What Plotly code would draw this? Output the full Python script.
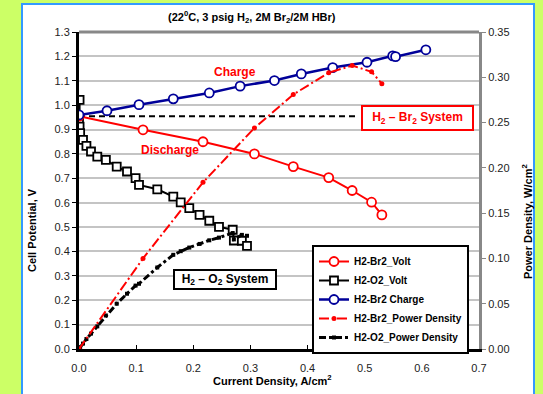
import plotly.graph_objects as go

# ---------------- data ----------------
BR_VOLT_I = [0.000, 0.112, 0.217, 0.307, 0.375, 0.437, 0.478, 0.512, 0.530]
BR_VOLT_V = [0.955, 0.899, 0.850, 0.800, 0.748, 0.703, 0.650, 0.602, 0.550]

O2_VOLT_I = [0.001, 0.000, 0.001, 0.002, 0.007, 0.013, 0.021, 0.032, 0.047, 0.066,
             0.084, 0.099, 0.105, 0.137, 0.165, 0.178, 0.193, 0.211, 0.228, 0.245,
             0.269, 0.271, 0.285, 0.294]
O2_VOLT_V = [1.022, 0.933, 0.912, 0.885, 0.858, 0.833, 0.810, 0.789, 0.776, 0.748,
             0.728, 0.701, 0.673, 0.655, 0.625, 0.601, 0.578, 0.550, 0.526, 0.501,
             0.489, 0.445, 0.444, 0.423]

CHG_I = [0.000, 0.049, 0.105, 0.165, 0.228, 0.282, 0.342, 0.389, 0.444, 0.504, 0.549, 0.554, 0.607]
CHG_V = [0.960, 0.977, 1.002, 1.026, 1.050, 1.078, 1.101, 1.128, 1.154, 1.176, 1.202, 1.199, 1.227]

BR_POW_I = [0.000, 0.112, 0.217, 0.307, 0.375, 0.437, 0.478, 0.512, 0.530]
BR_POW_P = [0.000, 0.100, 0.184, 0.244, 0.281, 0.305, 0.313, 0.306, 0.293]

O2_POW_I = O2_VOLT_I
O2_POW_P = [0.000, 0.000, 0.001, 0.002, 0.006, 0.011, 0.017, 0.025, 0.037, 0.050,
            0.061, 0.070, 0.072, 0.090, 0.104, 0.108, 0.112, 0.116, 0.120, 0.123,
            0.128, 0.121, 0.126, 0.125]

OCV_I = [0.000, 0.490]
OCV_V = [0.955, 0.955]

X_TICKS = [0.0, 0.1, 0.2, 0.3, 0.4, 0.5, 0.6, 0.7]
Y_TICKS = [round(0.1 * k, 1) for k in range(14)]
Y2_TICKS = [0.00, 0.05, 0.10, 0.15, 0.20, 0.25, 0.30, 0.35]

# ---------------- figure ----------------
FONT = "Liberation Sans, Arial, sans-serif"
RED = "#FF0000"
NAVY = "#000099"

# plot-area pixel geometry
L, R, T, B = 79, 479, 32, 349
W, H = 543, 394
PW, PH = R - L, B - T


def px(x):
    return (x - L) / PW


def py(y):
    return (B - y) / PH


fig = go.Figure()

fig.add_trace(go.Scatter(
    x=OCV_I, y=OCV_V, mode="lines", showlegend=False, hoverinfo="skip",
    line=dict(color="black", width=2, dash="6px,4px")))

fig.add_trace(go.Scatter(
    x=O2_POW_I, y=O2_POW_P, yaxis="y2", name="H2-O2_Power Density", mode="lines+markers",
    legendrank=5,
    line=dict(color="black", width=3, dash="7px,3px,3px,3px"),
    marker=dict(symbol="square", size=4, color="black")))

fig.add_trace(go.Scatter(
    x=BR_POW_I, y=BR_POW_P, yaxis="y2", name="H2-Br2_Power Density", mode="lines+markers",
    legendrank=4,
    line=dict(color=RED, width=2, dash="10px,3px,2px,3px"),
    marker=dict(symbol="circle", size=5, color=RED)))

fig.add_trace(go.Scatter(
    x=O2_VOLT_I, y=O2_VOLT_V, name="H2-O2_Volt", mode="lines+markers",
    legendrank=2,
    line=dict(color="black", width=2),
    marker=dict(symbol="square", size=8, color="white", line=dict(color="black", width=1.8))))

fig.add_trace(go.Scatter(
    x=BR_VOLT_I, y=BR_VOLT_V, name="H2-Br2_Volt", mode="lines+markers",
    legendrank=1,
    line=dict(color=RED, width=2),
    marker=dict(symbol="circle", size=9, color="white", line=dict(color=RED, width=1.8))))

fig.add_trace(go.Scatter(
    x=CHG_I, y=CHG_V, name="H2-Br2 Charge", mode="lines+markers",
    legendrank=3,
    line=dict(color=NAVY, width=2.5),
    marker=dict(symbol="circle", size=9, color="white", line=dict(color=NAVY, width=1.8))))

tickfont = dict(family=FONT, size=11, color="#222222")

fig.update_layout(
    width=W, height=H,
    margin=dict(l=L, r=W - R, t=T, b=H - B, pad=0),
    paper_bgcolor="#CCFF66",
    plot_bgcolor="white",
    font=dict(family=FONT, size=11, color="black"),
    showlegend=True,
    legend=dict(
        x=px(312), y=py(245), xanchor="left", yanchor="top",
        bgcolor="white", bordercolor="black", borderwidth=2,
        font=dict(family=FONT, size=10, color="black", weight="bold"),
        traceorder="normal", itemwidth=30, tracegroupgap=0,
    ),
    xaxis=dict(
        range=[0, 0.7], tickvals=X_TICKS, tickformat=".1f",
        showgrid=False, zeroline=False,
        showline=True, linecolor="black", linewidth=3,
        ticks="inside", ticklen=4, tickcolor="black", tickwidth=1,
        tickfont=tickfont, ticklabelstandoff=7,
    ),
    yaxis=dict(
        range=[0, 1.3], tickvals=Y_TICKS, tickformat=".1f",
        showgrid=True, gridcolor="#C4C4C4", gridwidth=2, zeroline=False,
        showline=True, linecolor="black", linewidth=3,
        ticks="outside", ticklen=4, tickcolor="black", tickwidth=1,
        tickfont=tickfont,
    ),
    yaxis2=dict(
        range=[0, 0.35], tickvals=Y2_TICKS, tickformat=".2f",
        overlaying="y", side="right", showgrid=False, zeroline=False,
        showline=True, linecolor="#888888", linewidth=3,
        ticks="outside", ticklen=4, tickcolor="#888888", tickwidth=1,
        tickfont=tickfont,
    ),
)

# outer white panel with blue border
fig.add_shape(type="rect", xref="paper", yref="paper", layer="below",
              x0=px(22), x1=px(534), y0=py(400), y1=py(4),
              fillcolor="white", line=dict(color="#3399FF", width=2))
# grey top border of plot area
fig.add_shape(type="line", xref="paper", yref="paper", layer="above",
              x0=0, x1=1, y0=1, y1=1, line=dict(color="#888888", width=3))

ANN = dict(showarrow=False, xanchor="center", yanchor="middle")

# title
fig.add_annotation(xref="paper", yref="paper", x=px(252), y=py(17), **ANN,
                   text="<b>(22<sup>0</sup>C, 3 psig H<sub>2</sub>, 2M Br<sub>2</sub>/2M HBr)</b>",
                   font=dict(family=FONT, size=11, color="black"))

# axis titles
fig.add_annotation(xref="paper", yref="paper", x=px(272), y=py(380), **ANN,
                   text="<b>Current Density, A/cm<sup>2</sup></b>",
                   font=dict(family=FONT, size=11, color="black"))
fig.add_annotation(xref="paper", yref="paper", x=px(32), y=py(230), **ANN,
                   textangle=-90, text="<b>Cell Potential, V</b>",
                   font=dict(family=FONT, size=11, color="black"))
fig.add_annotation(xref="paper", yref="paper", x=px(527), y=py(222), **ANN,
                   textangle=-90, text="<b>Power Density, W/cm<sup>2</sup></b>",
                   font=dict(family=FONT, size=11, color="black"))

# in-plot labels
fig.add_annotation(x=0.273, y=1.136, **ANN, text="<b>Charge</b>",
                   font=dict(family=FONT, size=12, color=RED))
fig.add_annotation(x=0.160, y=0.816, **ANN, text="<b>Discharge</b>",
                   font=dict(family=FONT, size=12, color=RED))
fig.add_annotation(xref="paper", yref="paper", x=px(417.5), y=py(117.5), **ANN,
                   text="<b>H<sub>2</sub> – Br<sub>2</sub> System</b>",
                   font=dict(family=FONT, size=12, color=RED),
                   bgcolor="white", bordercolor=RED, borderwidth=2, borderpad=3,
                   width=103, height=16)
fig.add_annotation(xref="paper", yref="paper", x=px(225), y=py(279), **ANN,
                   text="<b>H<sub>2</sub> – O<sub>2</sub> System</b>",
                   font=dict(family=FONT, size=12, color="black"),
                   bgcolor="white", bordercolor="black", borderwidth=2, borderpad=2,
                   width=96, height=13)

fig.write_html("out.html", config={"displayModeBar": False},
               post_script="document.body.style.margin='0px';")
